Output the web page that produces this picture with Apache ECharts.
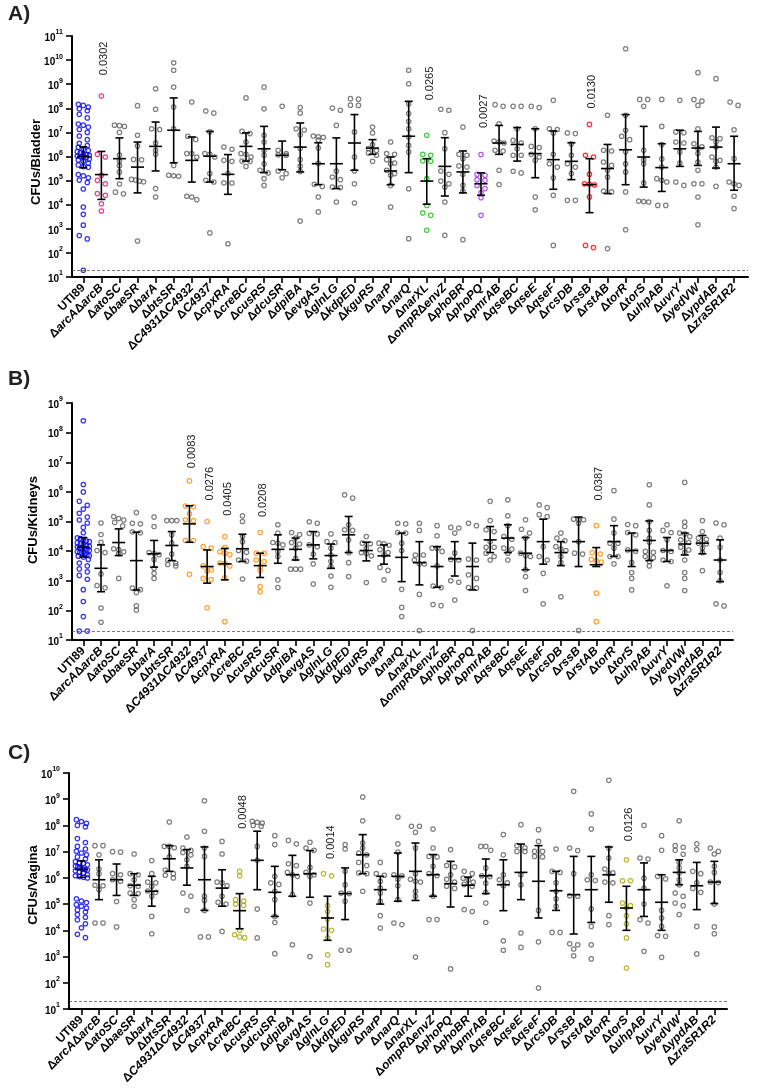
<!DOCTYPE html>
<html><head><meta charset="utf-8">
<script src="https://cdn.jsdelivr.net/npm/echarts@6/dist/echarts.min.js"></script>
<style>html,body{margin:0;padding:0;background:#fff}#c{width:773px;height:1091px}</style>
</head><body><div id="c"></div>
<script>
// ---------- categories ----------
const categoriesAB = ['UTI89','ΔarcAΔarcB','ΔatoSC','ΔbaeSR','ΔbarA','ΔbtsSR','ΔC4931ΔC4932','ΔC4937','ΔcpxRA','ΔcreBC','ΔcusRS','ΔdcuSR','ΔdpiBA','ΔevgAS','ΔglnLG','ΔkdpED','ΔkguRS','ΔnarP','ΔnarQ','ΔnarXL','ΔompRΔenvZ','ΔphoBR','ΔphoPQ','ΔpmrAB','ΔqseBC','ΔqseE','ΔqseF','ΔrcsDB','ΔrssB','ΔrstAB','ΔtorR','ΔtorS','ΔuhpAB','ΔuvrY','ΔyedVW','ΔypdAB','ΔzraSR1R2'];
const categoriesC = ['UTI89','ΔarcAΔarcB','ΔatoSC','ΔbaeSR','ΔbarA','ΔbtsSR','ΔC4931ΔC4932','ΔC4937','ΔcpxRA','ΔcreBC','ΔcusRS','ΔdcuSR','ΔdpiBA','ΔevgAS','ΔglnLG','ΔkdpED','ΔkguRS','ΔnarP','ΔnarQ','ΔnarXL','ΔompRΔenvZ','ΔphoPQ','ΔphoBR','ΔpmrAB','ΔqseBC','ΔqseE','ΔqseF','ΔrcsDB','ΔrssB','ΔrstAB','ΔtorR','ΔtorS','ΔuhpAB','ΔuvrY','ΔyedVW','ΔypdAB','ΔzraSR1R2'];
const yTicksA = [1,2,3,4,5,6,7,8,9,10,11];
const yTicksB = [1,2,3,4,5,6,7,8,9];
const yTicksC = [1,2,3,4,5,6,7,8,9,10];
const detectionLimitLog10 = 1.301; // 20 CFU

// ---------- data: log10 CFU per mouse ----------
const bladderLog10 = [
[8.17,8.12,8.05,7.98,7.9,7.75,7.6,7.35,7.3,7.22,7.12,7.0,6.85,6.7,6.55,6.45,6.38,6.3,6.25,6.2,6.15,6.1,6.08,6.05,6.02,6.0,5.98,5.95,5.9,5.85,5.8,5.72,5.65,5.58,5.55,5.25,5.2,5.12,5.02,4.92,4.65,3.9,3.6,3.15,2.72,2.58,1.28],
[8.51,6.09,5.98,5.22,5.01,4.87,4.46,4.39,4.04,3.74],
[7.3,7.28,7.25,7.0,6.06,5.8,5.62,5.35,4.86,4.52,4.45],
[8.11,6.88,6.44,5.88,5.86,5.05,5.02,4.98,4.95,2.49],
[8.81,7.96,7.15,7.12,6.56,6.26,6.09,4.67,4.32],
[9.89,9.58,8.88,8.05,7.15,5.63,5.22,5.2,5.18],
[8.26,6.84,6.71,6.12,6.12,5.98,4.35,4.32,4.21],
[7.89,7.8,7.02,6.12,6.09,5.98,5.29,5.01,4.94,2.83],
[6.39,6.3,5.84,5.8,5.29,4.91,4.9,2.38],
[8.43,7.04,6.95,6.6,6.12,6.09,5.98,5.81,5.8,5.59],
[8.88,7.98,6.88,6.6,6.26,6.05,5.7,5.43,5.32,5.08,4.8],
[8.08,6.26,6.12,6.07,6.05,5.4,5.29,5.12],
[8.03,7.8,7.15,7.1,6.9,6.33,5.87,5.6,5.38,3.32],
[6.85,6.82,6.8,6.68,6.35,5.72,4.85,4.76,4.32,3.7],
[8.01,7.92,7.29,5.4,5.15,5.04,4.73,4.71,4.11],
[8.4,8.38,8.13,8.12,7.02,5.98,5.4,4.87,4.07],
[7.22,6.98,6.5,6.33,6.25,6.15,6.05,5.8],
[6.6,6.12,6.09,5.87,5.73,5.7,5.43,5.29,5.22,4.8,3.9],
[9.58,9.02,8.19,7.78,7.45,7.15,6.81,6.46,6.19,4.66,2.59],
[6.88,6.09,6.05,5.82,5.8,5.08,3.97,3.66,3.56,2.94],
[7.96,7.92,6.99,6.32,5.4,5.26,4.98,4.87,4.73,4.11,2.73],
[7.22,6.09,6.05,5.91,5.61,5.56,5.26,4.8,4.57,2.55],
[6.08,5.26,5.22,5.04,5.01,4.8,4.67,4.49,4.29,3.56],
[8.15,8.08,7.36,6.64,6.6,6.56,6.26,6.23,5.43,4.84],
[8.08,8.08,7.15,6.67,6.56,6.32,6.05,6.05,5.39,5.32],
[8.08,8.03,7.15,6.42,6.37,6.09,5.98,5.84,4.32,3.79],
[8.33,7.15,7.12,6.98,6.09,5.7,5.56,5.12,4.39,2.31],
[6.98,6.95,6.53,6.05,5.7,5.56,5.29,4.18,4.18],
[7.33,6.05,5.98,5.26,4.87,4.85,4.82,4.32,2.31,2.22],
[7.71,6.26,6.23,5.77,5.63,5.43,5.15,4.57,4.53,2.18],
[10.47,7.71,7.09,6.84,6.7,6.2,5.7,5.36,4.53,2.96],
[8.37,8.37,8.08,6.26,5.87,5.7,4.9,4.15,4.13,4.11],
[8.37,7.25,6.5,5.9,5.56,5.08,5.01,4.94,3.97,3.97],
[8.33,7.02,6.99,6.6,6.56,6.19,5.73,4.94,4.8],
[9.48,8.36,8.3,8.12,7.15,6.53,6.4,6.32,6.12,5.77,5.43,4.87,4.87,4.32,3.17],
[9.23,6.78,6.74,6.6,6.39,5.98,5.84,5.8,5.56,4.76],
[8.26,8.12,7.11,5.91,4.94,4.87,4.8,4.35,3.84]
];
const bladderMedian = [6.0,5.25,5.91,5.56,6.42,7.09,5.84,6.01,5.26,6.42,6.32,6.05,6.39,5.70,5.70,6.56,6.35,5.4,6.84,4.98,5.59,5.36,4.87,6.56,6.5,6.12,5.87,5.8,4.83,5.5,6.28,5.98,5.54,6.32,6.35,6.39,5.70];
const bladderQ3 = [6.4,6.21,6.77,6.6,7.43,8.43,6.81,7.04,6.08,6.98,7.25,6.64,7.39,6.57,6.77,7.74,6.7,5.98,8.29,5.91,6.78,6.23,5.32,7.29,7.2,7.15,7.06,6.57,5.91,6.5,7.74,7.25,6.53,7.09,7.04,7.22,6.84];
const bladderQ1 = [5.53,4.22,5.08,4.49,5.4,5.74,4.94,4.94,4.43,5.81,5.33,5.45,5.36,4.83,4.67,5.43,6.09,4.83,5.33,4.02,4.36,4.49,4.39,6.09,5.81,5.12,4.64,5.04,3.67,4.46,4.83,4.73,4.55,5.59,5.63,5.52,4.6];

const kidneysLog10 = [
[8.4,6.25,6.0,5.68,5.55,5.42,5.28,5.15,5.05,4.95,4.8,4.62,4.45,4.42,4.38,4.35,4.32,4.28,4.25,4.22,4.18,4.16,4.14,4.12,4.1,4.08,4.05,4.02,3.98,3.95,3.92,3.9,3.87,3.85,3.83,3.8,3.72,3.6,3.5,3.4,3.3,3.18,3.05,2.7,2.3,1.79,1.3,1.3],
[4.95,4.56,4.3,4.02,3.95,3.23,2.84,2.76,2.08,1.6],
[5.17,5.1,5.05,4.97,4.85,4.08,4.05,3.98,3.92,3.08],
[5.3,4.94,4.92,4.65,4.62,2.75,2.7,2.6,2.15,2.01],
[5.15,4.83,3.95,3.92,3.88,3.72,3.42,3.25,3.08],
[5.03,5.03,5.03,4.55,4.27,3.9,3.7,3.59,3.55,3.5],
[6.37,5.52,5.5,5.26,5.06,5.03,4.36,4.36,3.22],
[5.0,4.15,4.1,3.5,3.37,3.33,3.08,3.04,2.09],
[4.49,4.12,3.98,3.93,3.88,3.6,3.58,3.5,3.1,1.62],
[5.19,5.0,4.49,4.32,4.02,3.96,3.7,3.66,3.06],
[4.63,3.93,3.93,3.7,3.65,3.48,3.34,2.8,2.63],
[4.89,4.61,4.29,4.27,4.21,3.99,3.82,3.03,2.77],
[4.63,4.56,4.44,4.29,4.24,4.1,3.75,3.39,3.39,3.39],
[4.99,4.94,4.6,4.58,4.21,4.15,3.9,3.57,2.89],
[4.58,4.32,4.29,4.1,3.87,3.65,3.48,3.16,2.78],
[5.9,5.79,4.89,4.72,4.7,4.38,3.95,3.61,3.14],
[4.49,4.27,4.25,4.1,3.95,3.92,3.84,2.94],
[4.27,4.25,4.2,4.05,3.95,3.87,3.45,3.35,3.03],
[4.94,4.92,4.63,4.61,4.27,4.02,2.71,2.1,1.79],
[4.94,4.7,3.87,3.87,3.7,3.57,3.57,2.54,1.32],
[4.86,4.52,4.1,4.1,3.99,3.5,2.82,2.77,2.2,2.16],
[4.8,4.78,4.61,3.93,3.72,3.7,3.0,2.95,2.35],
[4.94,4.86,3.73,3.7,3.2,3.08,2.77,2.75,1.32],
[5.68,5.03,4.72,4.66,4.32,4.13,4.13,3.93,3.82,3.7],
[5.73,5.19,4.86,4.49,4.4,4.1,4.07,3.93,3.7],
[5.06,4.74,4.61,4.44,3.93,3.85,3.82,3.37,3.14,2.67],
[5.56,5.47,5.23,5.17,4.15,3.82,3.7,3.25,2.22],
[4.61,4.44,4.35,4.15,4.07,4.02,3.82,3.61,2.46],
[5.08,5.06,5.06,4.94,4.32,3.93,3.9,1.32],
[4.86,3.95,3.9,3.72,3.68,3.63,2.58,1.62],
[6.04,5.08,4.61,4.27,4.27,4.1,3.82,3.82,3.57],
[4.9,4.86,4.63,4.55,4.04,4.0,3.61,3.28,3.08,2.69],
[6.24,5.56,5.0,4.7,4.44,4.3,3.99,3.96,3.82,3.78,3.65,3.5],
[4.89,4.7,4.63,4.38,4.02,3.99,3.7,3.65,2.83],
[6.32,4.98,4.83,4.61,4.58,4.49,4.38,4.29,4.13,4.04,3.95,3.7,3.28,3.08,2.67],
[5.03,4.66,4.44,4.4,4.27,4.25,4.1,3.95,3.34],
[4.95,4.89,4.44,4.13,3.7,3.28,3.0,2.22,2.15]
];
const kidneysMedian = [4.13,3.42,4.29,3.68,3.91,4.19,4.92,3.48,3.57,4.08,3.51,4.06,4.06,4.21,3.85,4.55,4.02,3.84,3.79,3.61,3.48,3.74,3.48,4.38,4.44,3.93,4.32,3.95,4.32,3.54,4.32,4.02,4.36,4.02,4.24,4.27,3.7];
const kidneysQ3 = [4.46,4.21,4.75,4.64,4.36,4.66,5.53,4.04,4.09,4.57,3.93,4.55,4.44,4.66,4.24,5.17,4.3,4.21,4.61,4.32,4.15,4.32,4.27,4.83,4.89,4.46,5.08,4.32,5.15,4.12,4.86,4.61,5.02,4.46,4.61,4.53,4.38];
const kidneysQ1 = [3.8,2.63,3.85,2.69,3.46,3.68,4.3,2.92,3.03,3.65,3.11,3.59,3.7,3.74,3.42,3.95,3.67,3.56,2.97,2.86,2.78,3.16,2.69,3.95,3.95,3.37,3.56,3.51,3.48,3.48,3.82,3.48,3.68,3.65,3.87,3.91,2.97];

const vaginaLog10 = [
[8.22,8.15,8.08,8.0,7.95,7.5,7.35,7.2,7.1,7.02,6.95,6.88,6.8,6.72,6.62,6.58,6.55,6.5,6.45,6.42,6.38,6.35,6.32,6.3,6.27,6.22,6.18,6.12,6.08,6.05,6.02,6.0,5.2,5.12,5.06,4.98,4.92,4.85,4.78,4.7,4.6,4.5,4.4,4.25,4.1,3.85,3.72],
[7.23,7.23,6.88,6.34,6.16,5.72,5.7,5.55,4.28,4.28],
[7.0,6.98,6.16,6.12,5.93,5.87,5.1,4.13],
[6.91,6.16,6.12,5.93,5.7,5.68,5.42,5.4,5.17,4.92],
[6.66,6.16,5.84,5.81,5.68,5.5,5.45,5.3,4.53,3.87],
[8.13,7.2,7.2,7.15,6.8,6.3,6.16,6.1,6.0],
[7.56,7.14,7.05,6.97,6.88,6.69,6.44,5.42,5.3,4.76],
[8.94,7.78,7.14,6.82,5.3,5.14,4.76,3.75,3.75],
[7.39,6.91,5.84,5.81,5.7,5.3,5.07,5.0,3.96],
[6.25,6.08,5.17,5.12,5.0,4.95,4.0,3.83,3.75,3.72],
[8.16,8.12,8.09,8.0,7.97,7.2,6.67,4.81,3.71],
[7.61,7.27,6.06,5.81,5.75,5.49,5.17,4.53,4.3,3.11],
[7.43,7.3,6.54,6.47,6.21,6.12,6.06,5.36,3.45],
[7.36,7.14,7.05,6.4,6.21,6.12,6.05,5.04,3.0],
[6.16,6.08,4.94,4.72,4.43,4.05,4.0,3.71,3.07,2.69],
[7.27,7.1,6.25,5.74,5.42,5.4,5.11,3.24,3.24],
[9.08,8.18,7.33,7.14,6.95,6.88,6.59,6.47,6.19,6.16,5.49],
[6.59,6.16,6.1,5.87,5.61,5.42,5.11,4.56,4.09],
[8.32,7.3,6.98,6.12,6.08,5.95,5.7,5.17,4.28,4.22],
[7.97,7.97,7.74,7.14,6.16,5.95,5.87,5.84,5.49,5.3,2.98],
[7.86,7.14,6.82,6.8,6.44,6.16,6.08,5.3,4.41,4.41],
[7.08,6.47,6.42,6.12,5.95,5.84,5.68,5.6,2.53],
[6.25,6.16,5.99,5.93,5.84,5.75,5.68,4.79,4.72],
[7.2,7.2,7.05,6.38,6.08,6.05,5.8,5.45,5.04,4.3],
[7.65,6.88,6.12,5.93,5.81,5.7,3.6,3.24],
[8.03,7.23,7.15,7.01,7.01,6.12,5.74,3.9,3.35],
[7.84,7.39,7.01,7.01,6.82,6.8,4.76,3.56,1.8],
[7.1,6.25,6.21,5.81,5.49,5.2,4.92,3.92,3.92],
[9.3,7.14,7.04,6.16,5.32,5.3,3.49,3.45,3.29,3.03],
[8.44,7.86,6.12,5.93,5.9,4.81,4.15,3.45,2.91],
[9.72,7.14,6.76,6.34,6.19,6.16,5.84,5.81,4.56,4.22],
[6.69,5.89,5.89,5.04,4.94,4.86,4.56,4.25,3.71,2.56],
[8.0,6.76,6.72,5.99,5.6,5.0,4.41,4.28,3.2],
[7.61,7.05,6.06,5.96,4.76,4.47,4.15,3.8,3.77,2.97],
[8.18,7.23,7.17,7.05,6.9,6.59,6.38,6.19,5.93,5.74,5.42,5.3,5.04,4.94,4.6],
[7.3,7.08,6.25,6.16,5.81,5.6,5.45,4.15,3.1],
[7.14,7.01,6.91,6.44,6.21,5.84,5.82,5.0,4.13,3.87]
];
const vaginaMedian = [6.32,5.93,5.93,5.72,5.49,6.73,6.38,5.93,5.61,4.75,6.67,5.45,6.12,6.16,4.47,5.4,6.88,5.55,6.06,6.25,6.12,5.78,5.72,6.08,5.74,6.21,5.87,5.51,5.36,5.55,6.12,4.85,5.55,5.07,6.21,5.7,5.84];
const vaginaQ3 = [6.65,6.69,6.53,6.16,6.06,7.23,7.08,7.18,6.31,5.4,7.78,6.44,6.86,7.04,5.3,6.38,7.65,6.06,6.95,7.33,6.89,6.63,6.03,6.72,6.69,7.29,7.23,6.25,6.82,6.82,7.18,5.68,6.57,6.12,6.69,6.59,6.63];
const vaginaQ1 = [6.02,5.17,5.33,5.33,4.92,6.25,5.72,4.76,4.92,4.06,5.55,4.53,5.3,5.26,3.62,4.41,6.16,5.0,5.11,5.14,5.3,4.89,5.3,5.4,4.75,5.17,4.47,4.76,3.86,4.3,5.07,4.0,4.53,4.0,5.74,4.79,5.02];

// ---------- p values (category index, text) ----------
const pBladder = [[1,'0.0302'],[19,'0.0265'],[22,'0.0027'],[28,'0.0130']];
const pKidneys = [[6,'0.0083'],[7,'0.0276'],[8,'0.0405'],[10,'0.0208'],[29,'0.0387']];
const pVagina = [[9,'0.0048'],[14,'0.0014'],[31,'0.0126']];

// ---------- styling / layout ----------
const FONT = '"Liberation Sans", Arial, sans-serif';
const GRAY = '#5f5f5f', BLUE = '#0000ff';
const colorsA = {0: BLUE, 1: '#e8127c', 19: '#12c012', 22: '#a72cf0', 28: '#ff0000'};
const colorsB = {0: BLUE, 6: '#ff8c00', 7: '#ff8c00', 8: '#ff8c00', 10: '#ff8c00', 29: '#ff8c00'};
const colorsC = {0: BLUE, 9: '#a9a900', 14: '#a9a900', 31: '#a9a900'};
const pLabelYA = [9.37, 8.33, 7.18, 7.99];
const pLabelYB = [6.80, 5.71, 5.19, 5.15, 5.71];
const pLabelYC = [7.87, 6.72, 7.40];

const panels = [
  {cats: categoriesAB, data: bladderLog10, med: bladderMedian, q1: bladderQ1, q3: bladderQ3, colors: colorsA, p: pBladder, pY: pLabelYA,
   grid: {left: 72, top: 36, width: 676, height: 241}, xMin: -0.625, xMax: 36.77, yMax: 11, title: 'CFUs/Bladder', titleX: 36.5, titleY: 162, letter: 'A)', letterY: 15},
  {cats: categoriesAB, data: kidneysLog10, med: kidneysMedian, q1: kidneysQ1, q3: kidneysQ3, colors: colorsB, p: pKidneys, pY: pLabelYB,
   grid: {left: 72, top: 403, width: 661, height: 237}, xMin: -0.64, xMax: 36.73, yMax: 9, title: 'CFUs/Kidneys', titleX: 33.5, titleY: 520, letter: 'B)', letterY: 380},
  {cats: categoriesC, data: vaginaLog10, med: vaginaMedian, q1: vaginaQ1, q3: vaginaQ3, colors: colorsC, p: pVagina, pY: pLabelYC,
   grid: {left: 69, top: 773, width: 658, height: 236}, xMin: -0.706, xMax: 36.72, yMax: 10, title: 'CFUs/Vagina', titleX: 33.5, titleY: 885, letter: 'C)', letterY: 754}
];

function richName(name) {
  if (name.indexOf('Δ') < 0) return '{n|' + name + '}';
  return name.split('Δ').filter(s => s).map(s => '{d|Δ}{i|' + s + '}').join('');
}

// beeswarm-style horizontal spreading (in category units)
function swarm(vals, pxDec, pxCat) {
  const s = vals.slice().sort((a, b) => b - a);
  const rows = []; let cur = [];
  for (const v of s) {
    if (cur.length && (cur[0] - v) * pxDec >= 4) { rows.push(cur); cur = []; }
    cur.push(v);
  }
  if (cur.length) rows.push(cur);
  const out = [];
  for (const r of rows) {
    const n = r.length;
    const step = n === 1 ? 0 : (n === 2 ? 8 : Math.min(5, 12 / (n - 1)));
    r.forEach((v, j) => out.push([((j - (n - 1) / 2) * step) / pxCat, v]));
  }
  return out;
}

const grids = [], xAxes = [], yAxes = [], series = [], graphics = [];
const idx37 = Array.from({length: 37}, (_, i) => i);

panels.forEach((P, k) => {
  grids.push(Object.assign({outerBoundsMode: 'none', containLabel: false}, P.grid));
  const pxCat = P.grid.width / (P.xMax - P.xMin);
  const pxDec = P.grid.height / (P.yMax - 1);
  xAxes.push({
    type: 'value', gridIndex: k, min: P.xMin, max: P.xMax,
    splitLine: {show: false},
    axisLine: {show: true, onZero: false, lineStyle: {color: '#000', width: 2}},
    axisTick: {show: true, length: 6, customValues: idx37, lineStyle: {color: '#000', width: 1.6}},
    axisLabel: {
      customValues: idx37, rotate: 45, margin: 9,
      formatter: v => richName(P.cats[Math.round(v)] || ''),
      rich: {
        n: {fontFamily: FONT, fontWeight: 'bold', fontSize: 12, color: '#000'},
        d: {fontFamily: FONT, fontWeight: 'bold', fontSize: 12, color: '#000'},
        i: {fontFamily: FONT, fontWeight: 'bold', fontStyle: 'italic', fontSize: 12, color: '#000'}
      }
    }
  });
  yAxes.push({
    type: 'value', gridIndex: k, min: 1, max: P.yMax, interval: 1,
    splitLine: {show: false},
    axisLine: {show: true, onZero: false, lineStyle: {color: '#000', width: 2}},
    axisTick: {show: true, length: 6, lineStyle: {color: '#000', width: 1.6}},
    axisLabel: {
      margin: 9,
      formatter: v => '{a|10}{b|' + v + '}',
      rich: {
        a: {fontFamily: FONT, fontWeight: 'bold', fontSize: 10, color: '#000', lineHeight: 14, verticalAlign: 'bottom'},
        b: {fontFamily: FONT, fontWeight: 'bold', fontSize: 7, color: '#000', lineHeight: 14, verticalAlign: 'top'}
      }
    }
  });
  // scatter points
  const pts = [];
  P.data.forEach((vals, i) => {
    const col = P.colors[i] || GRAY;
    swarm(vals, pxDec, pxCat).forEach(([dx, v]) => {
      pts.push({value: [i + dx, v], itemStyle: {borderColor: col}});
    });
  });
  series.push({
    type: 'scatter', xAxisIndex: k, yAxisIndex: k, data: pts,
    symbol: 'circle', symbolSize: 4.4, silent: true,
    itemStyle: {color: 'rgba(255,255,255,0)', borderWidth: 1.25},
    markLine: {
      silent: true, symbol: ['none', 'none'], label: {show: false},
      lineStyle: {type: [3, 2], color: '#555', width: 0.8},
      data: [{yAxis: detectionLimitLog10}]
    },
    z: 2
  });
  // median + interquartile range
  series.push({
    type: 'custom', xAxisIndex: k, yAxisIndex: k, silent: true, z: 5,
    data: P.med.map((m, i) => [i, m, P.q1[i], P.q3[i]]),
    encode: {x: 0, y: [1, 2, 3]},
    renderItem: (params, api) => {
      const x = api.value(0);
      const pm = api.coord([x, api.value(1)]);
      const pl = api.coord([x, api.value(2)]);
      const ph = api.coord([x, api.value(3)]);
      const st = {stroke: '#000', lineWidth: 1.6};
      const cap = 4, med = 6.5;
      return {type: 'group', children: [
        {type: 'line', shape: {x1: pl[0], y1: pl[1], x2: ph[0], y2: ph[1]}, style: st},
        {type: 'line', shape: {x1: pl[0] - cap, y1: pl[1], x2: pl[0] + cap, y2: pl[1]}, style: st},
        {type: 'line', shape: {x1: ph[0] - cap, y1: ph[1], x2: ph[0] + cap, y2: ph[1]}, style: st},
        {type: 'line', shape: {x1: pm[0] - med, y1: pm[1], x2: pm[0] + med, y2: pm[1]}, style: st}
      ]};
    }
  });
  // p-value labels
  series.push({
    type: 'custom', xAxisIndex: k, yAxisIndex: k, silent: true, z: 6,
    data: P.p.map((p, j) => [p[0], P.pY[j]]),
    encode: {x: 0, y: 1},
    renderItem: (params, api) => {
      const c = api.coord([api.value(0), api.value(1)]);
      return {type: 'text', x: c[0] + 3, y: c[1], rotation: Math.PI / 2,
        style: {text: P.p[params.dataIndex][1], fontFamily: FONT, fontSize: 11, fill: '#222', align: 'left', verticalAlign: 'middle'}};
    }
  });
  graphics.push({type: 'text', left: 8, top: P.letterY - 11,
    style: {text: P.letter, fontFamily: FONT, fontWeight: 'bold', fontSize: 21, fill: '#222'}});
  graphics.push({type: 'text', x: P.titleX, y: P.titleY, rotation: Math.PI / 2,
    style: {text: P.title, fontFamily: FONT, fontWeight: 'bold', fontSize: 13, fill: '#000', align: 'center', verticalAlign: 'middle'}});
});

const chart = echarts.init(document.getElementById('c'), null, {renderer: 'canvas'});
chart.setOption({
  animation: false,
  backgroundColor: '#fff',
  grid: grids, xAxis: xAxes, yAxis: yAxes, series: series, graphic: graphics
});
</script>
</body></html>
